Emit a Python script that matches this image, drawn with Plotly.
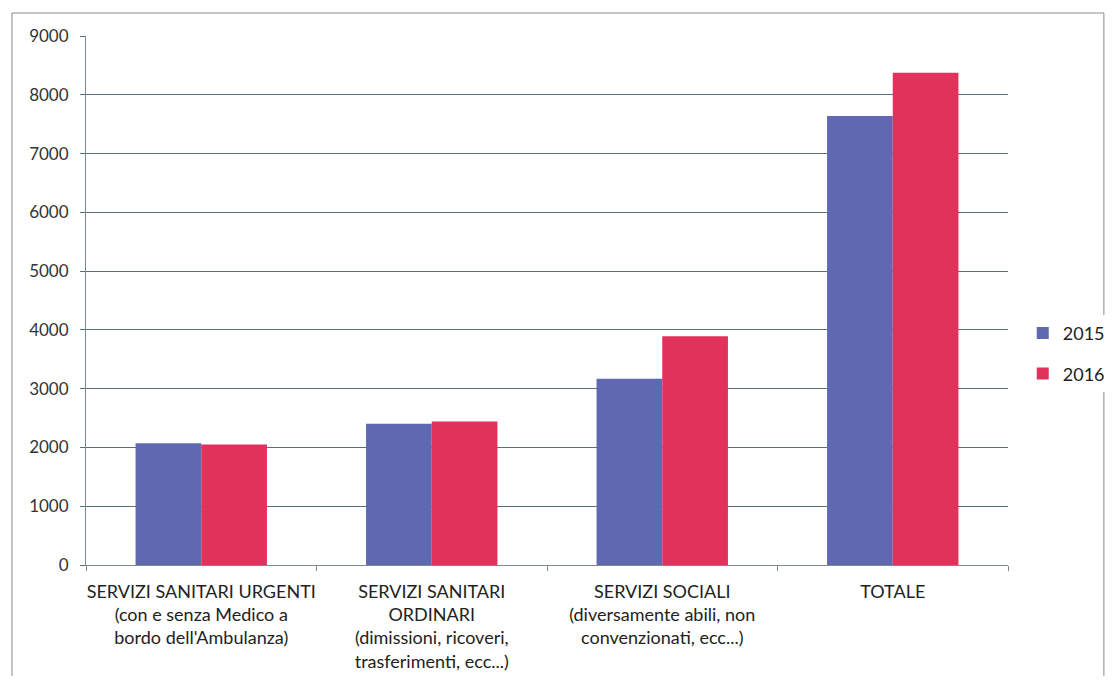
import plotly.graph_objects as go

categories = [
    "SERVIZI SANITARI URGENTI<br>(con e senza Medico a<br>bordo dell'Ambulanza)",
    "SERVIZI SANITARI<br>ORDINARI<br>(dimissioni, ricoveri,<br>trasferimenti, ecc...)",
    "SERVIZI SOCIALI<br>(diversamente abili, non<br>convenzionati, ecc...)",
    "TOTALE",
]
years = ["2015", "2016"]
values_2015 = [2070, 2405, 3170, 7640]
values_2016 = [2050, 2440, 3890, 8375]
y_ticks = [0, 1000, 2000, 3000, 4000, 5000, 6000, 7000, 8000, 9000]

colors = ["#5f68b0", "#e0325a"]

fig = go.Figure()
for name, vals, col in zip(years, [values_2015, values_2016], colors):
    fig.add_trace(go.Bar(x=categories, y=vals, name=name, marker_color=col,
                         marker_line_width=0, legendgroup=name))

fig.update_layout(
    width=1098, height=668,
    margin=dict(l=78, r=98, t=28, b=111, autoexpand=False),
    paper_bgcolor="white", plot_bgcolor="white",
    barmode="group", bargap=0.43, bargroupgap=0,
    font=dict(family="Lato, sans-serif", size=18, color="#222222"),
    legend=dict(x=1.016, y=0.40, xanchor="left", yanchor="middle",
                font=dict(size=18), tracegroupgap=14, itemwidth=30),
    showlegend=True,
)
fig.update_yaxes(range=[0, 9000], tickvals=y_ticks, showgrid=True,
                 gridcolor="#55707c", gridwidth=1, showline=True,
                 linecolor="#7a8a90", ticks="outside", ticklen=5,
                 tickcolor="#55707c", zeroline=False, automargin=False,
                 ticklabelstandoff=8,
                 tickfont=dict(size=17, color="#333333"))
fig.update_xaxes(showline=True, linecolor="#7a8a90", ticks="outside",
                 tickson="boundaries", ticklen=5, tickcolor="#7a8a90",
                 tickangle=0, automargin=False, ticklabelstandoff=10,
                 tickfont=dict(size=18, color="#222222"))

fig.add_shape(type="rect", xref="paper", yref="paper",
              x0=-0.0803, x1=1.104, y0=-1.0, y1=1.0435,
              line=dict(color="#8a8a8a", width=1), fillcolor="rgba(0,0,0,0)",
              layer="below")

fig.write_html("out.html")
